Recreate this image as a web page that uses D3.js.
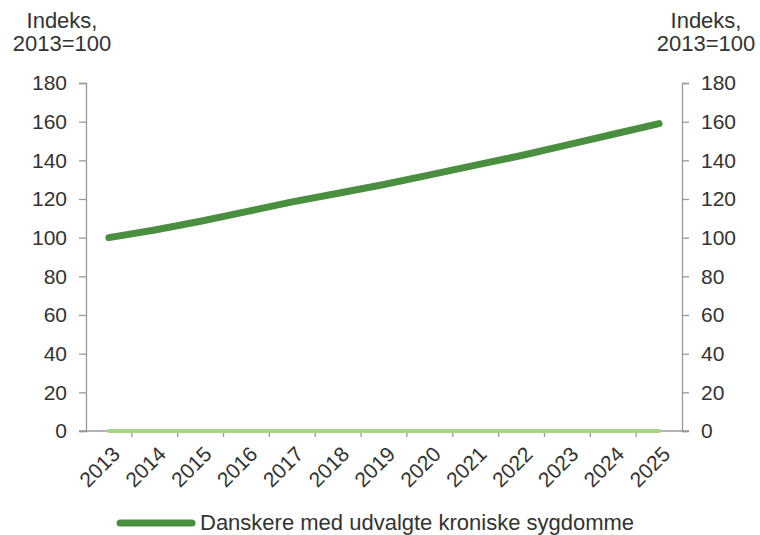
<!DOCTYPE html>
<html>
<head>
<meta charset="utf-8">
<script src="https://cdn.jsdelivr.net/npm/d3@7"></script>
<style>
	body { margin: 0; background: #fff; }
	svg text { font-family: "Liberation Sans", Arial, sans-serif; fill: #333; }
</style>
</head>
<body>
<svg width="760" height="535"></svg>
<script>
let years = ['2013', '2014', '2015', '2016', '2017', '2018', '2019', '2020', '2021', '2022', '2023', '2024', '2025']
let kroniske = [100, 104, 108.5, 113.5, 118.5, 123, 127.5, 132.5, 137.5, 142.5, 148, 153.5, 159]
let nullSerie = [0, 0, 0, 0, 0, 0, 0, 0, 0, 0, 0, 0, 0]
let yTicks = [0, 20, 40, 60, 80, 100, 120, 140, 160, 180]
let legendLabel = 'Danskere med udvalgte kroniske sygdomme'

let svg = d3.select('svg')

let xScale = d3.scaleBand()
	.domain(years)
	.range([86, 682])

let yScale = d3.scaleLinear()
	.domain([0, 180])
	.range([431, 83])

function center(d) {
	return xScale(d) + xScale.bandwidth() / 2
}

// axes
let leftAxis = d3.axisLeft(yScale).tickValues(yTicks).tickSize(7).tickPadding(12)
let rightAxis = d3.axisRight(yScale).tickValues(yTicks).tickSize(7).tickPadding(12)

let leftG = svg.append('g').attr('transform', 'translate(86, 0)').call(leftAxis)
let rightG = svg.append('g').attr('transform', 'translate(682, 0)').call(rightAxis)

for (let g of [leftG, rightG]) {
	g.select('.domain').attr('stroke', '#999').attr('stroke-width', 1.3)
	g.selectAll('.tick line').attr('stroke', '#999').attr('stroke-width', 1.3)
	g.selectAll('.tick text').attr('font-size', 21).attr('fill', '#333')
		.attr('font-family', '"Liberation Sans", Arial, sans-serif')
}

// bottom axis with ticks on band boundaries
svg.append('line')
	.attr('x1', 79).attr('x2', 689)
	.attr('y1', yScale(0)).attr('y2', yScale(0))
	.attr('stroke', '#999').attr('stroke-width', 1.3)

svg.append('g').selectAll('line')
	.data(years.slice(1))
	.join('line')
	.attr('x1', d => xScale(d)).attr('x2', d => xScale(d))
	.attr('y1', yScale(0)).attr('y2', yScale(0) + 6)
	.attr('stroke', '#999').attr('stroke-width', 1.3)

svg.append('g').selectAll('text')
	.data(years)
	.join('text')
	.attr('transform', d => `translate(${center(d) + 2}, ${yScale(0) + 14}) rotate(-45)`)
	.attr('text-anchor', 'end')
	.attr('dy', '0.7em')
	.attr('font-size', 21)
	.text(d => d)

// axis titles
let titles = [['Indeks,', 28], ['2013=100', 51]]
for (let [t, y] of titles) {
	svg.append('text').attr('x', 62).attr('y', y).attr('text-anchor', 'middle').attr('font-size', 22).text(t)
	svg.append('text').attr('x', 706).attr('y', y).attr('text-anchor', 'middle').attr('font-size', 22).text(t)
}

// lines
let line = d3.line()
	.x((d, i) => center(years[i]))
	.y(d => yScale(d))

svg.append('path')
	.datum(nullSerie)
	.attr('d', line)
	.attr('fill', 'none')
	.attr('stroke', '#a3d784')
	.attr('stroke-width', 4)
	.attr('stroke-linecap', 'round')

svg.append('path')
	.datum(kroniske)
	.attr('d', line)
	.attr('fill', 'none')
	.attr('stroke', '#4a8f40')
	.attr('stroke-width', 7)
	.attr('stroke-linecap', 'round')
	.attr('stroke-linejoin', 'round')

// legend
svg.append('line')
	.attr('x1', 120).attr('x2', 192)
	.attr('y1', 523).attr('y2', 523)
	.attr('stroke', '#4a8f40').attr('stroke-width', 7)
	.attr('stroke-linecap', 'round')

svg.append('text')
	.attr('x', 200).attr('y', 530)
	.attr('font-size', 22)
	.text(legendLabel)
</script>
</body>
</html>
